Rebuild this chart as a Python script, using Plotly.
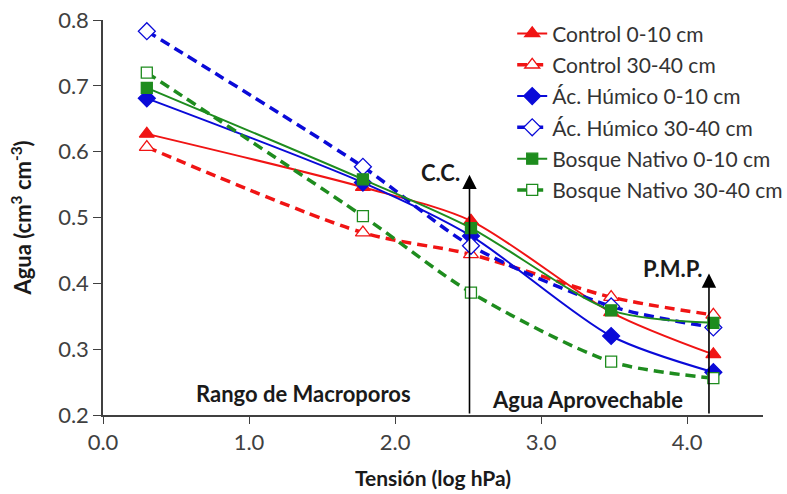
import plotly.graph_objects as go

# ---- data ----
tension = [0.30, 1.78, 2.52, 3.48, 4.18]
series_names = [
    "Control 0-10 cm",
    "Control 30-40 cm",
    "Ác. Húmico 0-10 cm",
    "Ác. Húmico 30-40 cm",
    "Bosque Nativo 0-10 cm",
    "Bosque Nativo 30-40 cm",
]
control_0_10 = [0.627, 0.546, 0.495, 0.356, 0.292]
control_30_40 = [0.607, 0.477, 0.444, 0.379, 0.352]
humico_0_10 = [0.681, 0.553, 0.472, 0.320, 0.265]
humico_30_40 = [0.783, 0.577, 0.457, 0.365, 0.333]
bosque_0_10 = [0.697, 0.558, 0.484, 0.359, 0.340]
bosque_30_40 = [0.720, 0.502, 0.386, 0.281, 0.256]
x_ticks = [0.0, 1.0, 2.0, 3.0, 4.0]
y_ticks = [0.2, 0.3, 0.4, 0.5, 0.6, 0.7, 0.8]

RED = "#F01414"
BLUE = "#0A0AD8"
GREEN = "#1E8C1E"
FONT = "Lato"

styles = [
    dict(color=RED, symbol="triangle-up", fill=RED, dash="solid", width=2, size=13),
    dict(color=RED, symbol="triangle-up", fill="white", dash="10px,6px", width=3.5, size=13),
    dict(color=BLUE, symbol="diamond", fill=BLUE, dash="solid", width=2, size=13),
    dict(color=BLUE, symbol="diamond", fill="white", dash="10px,6px", width=3.5, size=13),
    dict(color=GREEN, symbol="square", fill=GREEN, dash="solid", width=2, size=11),
    dict(color=GREEN, symbol="square", fill="white", dash="10px,6px", width=3.5, size=11),
]
values = [control_0_10, control_30_40, humico_0_10, humico_30_40, bosque_0_10, bosque_30_40]

fig = go.Figure()
for name, vals, st in zip(series_names, values, styles):
    fig.add_trace(go.Scatter(
        x=tension, y=vals, name=name, mode="lines+markers",
        line=dict(color=st["color"], width=st["width"], dash=st["dash"], shape="spline", smoothing=0.8),
        marker=dict(symbol=st["symbol"], size=st["size"], color=st["fill"],
                    line=dict(color=st["color"], width=1.3)),
        legendgroup=name,
    ))

annot_font = dict(family=FONT, size=22, color="#1a1a1a")
annotations = [
    # vertical arrows C.C. and P.M.P.
    dict(x=2.51, y=0.565, ax=2.51, ay=0.2, xref="x", yref="y", axref="x", ayref="y",
         showarrow=True, arrowhead=2, arrowsize=1.8, arrowwidth=1.6, arrowcolor="black", text=""),
    dict(x=4.15, y=0.415, ax=4.15, ay=0.2, xref="x", yref="y", axref="x", ayref="y",
         showarrow=True, arrowhead=2, arrowsize=1.8, arrowwidth=1.6, arrowcolor="black", text=""),
    dict(x=2.46, y=0.569, xref="x", yref="y", text="<b>C.C.</b>", showarrow=False,
         xanchor="right", yanchor="middle", font=annot_font),
    dict(x=4.12, y=0.423, xref="x", yref="y", text="<b>P.M.P.</b>", showarrow=False,
         xanchor="right", yanchor="middle", font=annot_font),
    dict(x=1.37, y=0.232, xref="x", yref="y", text="<b>Rango de Macroporos</b>", showarrow=False,
         xanchor="center", yanchor="middle", font=annot_font),
    dict(x=3.32, y=0.224, xref="x", yref="y", text="<b>Agua Aprovechable</b>", showarrow=False,
         xanchor="center", yanchor="middle", font=annot_font),
]

fig.update_layout(
    width=787, height=494,
    margin=dict(l=103, r=24, t=20, b=79, autoexpand=False),
    plot_bgcolor="white", paper_bgcolor="white",
    font=dict(family=FONT, color="#404040"),
    annotations=annotations,
    legend=dict(x=0.62, y=1.017, xanchor="left", yanchor="top", bgcolor="rgba(0,0,0,0)",
                font=dict(family=FONT, size=21, color="#333333"),
                traceorder="grouped", tracegroupgap=1),
    xaxis=dict(range=[0, 4.52], tickvals=x_ticks, tickformat=".1f", showgrid=False, zeroline=False,
               showline=True, linecolor="#404040", linewidth=1.5, ticks="outside", ticklen=7,
               tickcolor="#404040", tickfont=dict(family=FONT, size=22, color="#404040"),
               automargin=False,
               title=dict(text="<b>Tensión (log hPa)</b>", font=dict(family=FONT, size=21, color="#1a1a1a"),
                          standoff=17)),
    yaxis=dict(range=[0.2, 0.8], tickvals=y_ticks, tickformat=".1f", showgrid=False, zeroline=False,
               showline=True, linecolor="#404040", linewidth=1.5, ticks="outside", ticklen=8,
               tickcolor="#404040", tickfont=dict(family=FONT, size=22, color="#404040"),
               automargin=False,
               title=dict(text="<b>Agua (cm<sup>3</sup> cm<sup>-3</sup>)</b>",
                          font=dict(family=FONT, size=22, color="#1a1a1a"), standoff=20)),
)

fig.write_html("out.html")
